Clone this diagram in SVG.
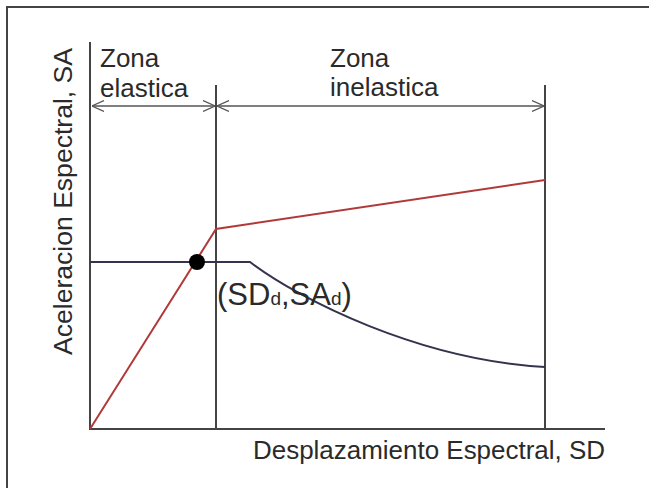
<svg xmlns="http://www.w3.org/2000/svg" width="649" height="488" viewBox="0 0 649 488">
<style>
.t{font-family:"Liberation Sans",Arial,sans-serif;fill:#2a2a2a}
.ax{stroke:#444;stroke-width:2;fill:none}
.dim{stroke:#555;stroke-width:1.5;fill:none}
</style>
<defs>
<marker id="ah" viewBox="0 0 12 12" refX="12" refY="6" markerWidth="12" markerHeight="12" markerUnits="userSpaceOnUse" orient="auto-start-reverse">
<path d="M0,0.5 L12,6 L0,11.5" fill="none" stroke="#555" stroke-width="1.2"/>
</marker>
</defs>
<rect width="649" height="488" fill="#fff"/>
<path d="M7,488 V7 H649" fill="none" stroke="#444" stroke-width="2"/>
<g id="connectors">
<path class="ax" d="M90,42 V429 H605"/>
<path class="ax" d="M216,85 V429"/>
<path class="ax" d="M545,85 V429"/>
<line class="dim" x1="92" y1="106" x2="215" y2="106" marker-start="url(#ah)" marker-end="url(#ah)"/>
<line class="dim" x1="217" y1="106" x2="544" y2="106" marker-start="url(#ah)" marker-end="url(#ah)"/>
<polyline points="90,429 216,229 545,180" fill="none" stroke="#b03a3a" stroke-width="2"/>
<path d="M90,262 H250 C300,300 420,360 545,367" fill="none" stroke="#33334d" stroke-width="2"/>
</g>
<g id="point">
<circle cx="197" cy="262" r="8" fill="#000"/>
<text class="t" x="217" y="305" font-size="31">(SD<tspan font-size="19">d</tspan>,SA<tspan font-size="19">d</tspan>)</text>
</g>
<g id="zona-elastica">
<text class="t" x="100" y="67" font-size="26">Zona</text>
<text class="t" x="100" y="97" font-size="26">elastica</text>
</g>
<g id="zona-inelastica">
<text class="t" x="330" y="67" font-size="26">Zona</text>
<text class="t" x="330" y="96" font-size="26">inelastica</text>
</g>
<g id="axis-labels">
<text class="t" x="253" y="459" font-size="26" textLength="352" lengthAdjust="spacingAndGlyphs">Desplazamiento Espectral, SD</text>
<text class="t" transform="translate(72,355) rotate(-90)" font-size="26" textLength="307" lengthAdjust="spacingAndGlyphs">Aceleracion Espectral, SA</text>
</g>
</svg>
